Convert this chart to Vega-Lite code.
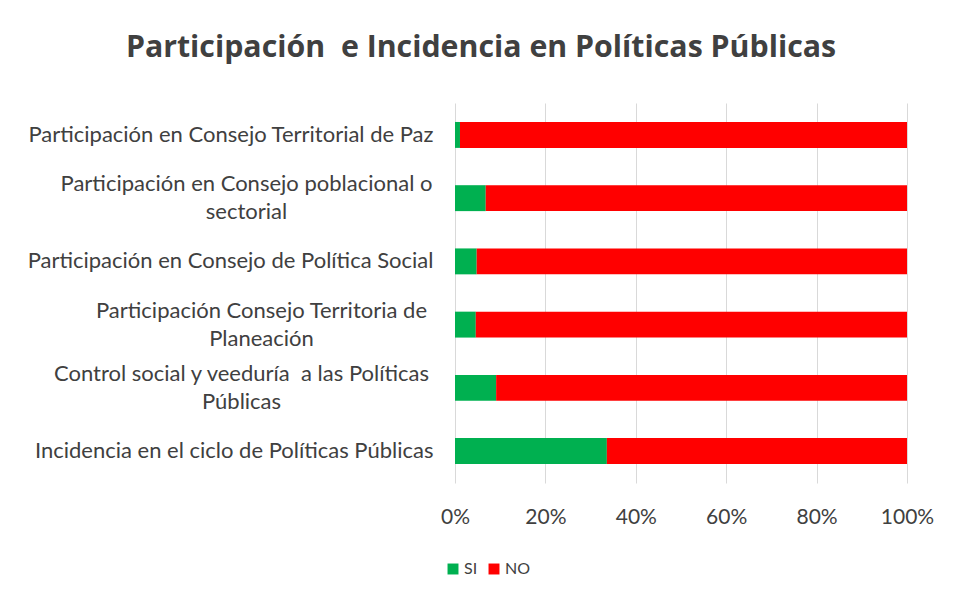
{
  "$schema": "https://vega.github.io/schema/vega-lite/v6.json",
  "autosize": "none",
  "width": 452,
  "height": 380,
  "padding": {"left": 455, "top": 103, "right": 56, "bottom": 120},
  "background": "white",
  "title": {
    "text": "Participación\u00a0 e Incidencia en Políticas Públicas",
    "font": "Open Sans",
    "fontSize": 30.3,
    "fontWeight": "bold",
    "color": "#404040",
    "anchor": "middle",
    "dx": -200,
    "offset": 40
  },
  "data": {
    "values": [
      {"cat": "Participación en Consejo Territorial de Paz", "resp": "SI", "pct": 1.1},
      {"cat": "Participación en Consejo Territorial de Paz", "resp": "NO", "pct": 98.9},
      {"cat": "Participación en Consejo poblacional o|sectorial", "resp": "SI", "pct": 6.8},
      {"cat": "Participación en Consejo poblacional o|sectorial", "resp": "NO", "pct": 93.2},
      {"cat": "Participación en Consejo de Política Social", "resp": "SI", "pct": 4.8},
      {"cat": "Participación en Consejo de Política Social", "resp": "NO", "pct": 95.2},
      {"cat": "Participación Consejo Territoria de|Planeación", "resp": "SI", "pct": 4.6},
      {"cat": "Participación Consejo Territoria de|Planeación", "resp": "NO", "pct": 95.4},
      {"cat": "Control social y veeduría\u00a0 a las Políticas|Públicas", "resp": "SI", "pct": 9.1},
      {"cat": "Control social y veeduría\u00a0 a las Políticas|Públicas", "resp": "NO", "pct": 90.9},
      {"cat": "Incidencia en el ciclo de Políticas Públicas", "resp": "SI", "pct": 33.6},
      {"cat": "Incidencia en el ciclo de Políticas Públicas", "resp": "NO", "pct": 66.4}
    ]
  },
  "mark": {"type": "bar"},
  "encoding": {
    "y": {
      "field": "cat",
      "type": "nominal",
      "sort": null,
      "title": null,
      "scale": {"paddingInner": 0.59, "paddingOuter": 0.3},
      "axis": {
        "labelExpr": "split(datum.label, '|')",
        "labelFont": "Lato",
        "labelFontSize": 22,
        "labelColor": "#404040",
        "labelLineHeight": 28,
        "labelAlign": {"condition": {"test": "indexof(datum.value, '|') >= 0", "value": "center"}, "value": "right"},
        "labelOffset": {"condition": {"test": "indexof(datum.value, '|') >= 0", "value": -14}, "value": 0},
        "labelPadding": {
          "condition": [
            {"test": "indexof(datum.value, 'poblacional') >= 0", "value": 209},
            {"test": "indexof(datum.value, 'Planeación') >= 0", "value": 194},
            {"test": "indexof(datum.value, 'veeduría') >= 0", "value": 214}
          ],
          "value": 22
        },
        "labelLimit": 0,
        "ticks": false,
        "domain": false,
        "grid": false
      }
    },
    "x": {
      "field": "pct",
      "type": "quantitative",
      "stack": "normalize",
      "title": null,
      "scale": {"domain": [0, 1], "nice": false},
      "axis": {
        "format": ".0%",
        "values": [0, 0.2, 0.4, 0.6, 0.8, 1],
        "labelFont": "Lato",
        "labelFontSize": 21,
        "labelColor": "#404040",
        "labelPadding": 23,
        "labelFlush": false,
        "ticks": false,
        "domain": false,
        "grid": true,
        "gridColor": "#d9d9d9",
        "gridWidth": 1
      }
    },
    "color": {
      "field": "resp",
      "type": "nominal",
      "scale": {"domain": ["SI", "NO"], "range": ["#00B050", "#FF0000"]},
      "legend": {
        "title": null,
        "orient": "none",
        "direction": "horizontal",
        "legendX": -10,
        "legendY": 458,
        "symbolType": "square",
        "symbolSize": 120,
        "symbolStrokeWidth": 0,
        "labelFont": "Lato",
        "labelFontSize": 16,
        "labelColor": "#404040",
        "columnPadding": 8,
        "labelOffset": 3
      }
    },
    "order": {"field": "resp", "sort": "descending"}
  },
  "config": {
    "view": {"stroke": null}
  }
}
